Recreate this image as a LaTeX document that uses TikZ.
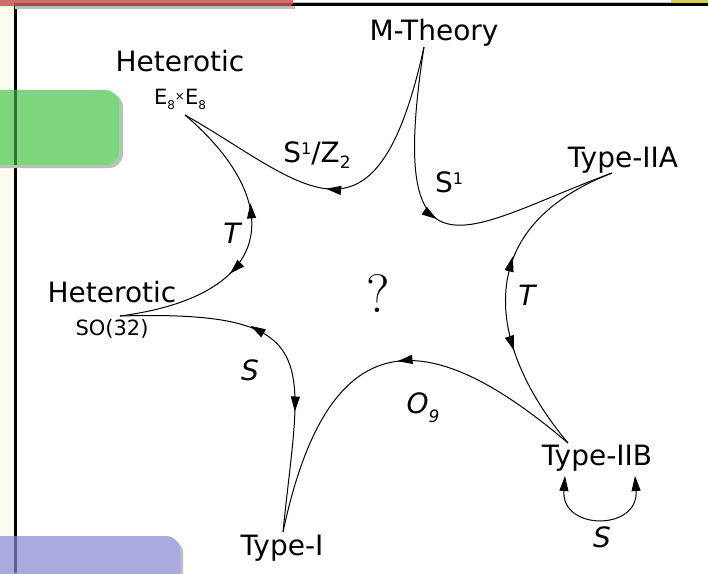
\documentclass[tikz,border=0pt]{standalone}
\usepackage{fontspec}
\setsansfont{DejaVu Sans}
\usetikzlibrary{arrows.meta, decorations.markings}

\definecolor{slidebeige}{RGB}{252,251,239}
\definecolor{slidered}{RGB}{204,84,84}
\definecolor{slidegreen}{RGB}{125,214,125}
\definecolor{slidegreendark}{RGB}{45,115,45}
\definecolor{slideblue}{RGB}{170,170,222}
\definecolor{slidebluedark}{RGB}{95,95,150}
\definecolor{slideyellow}{RGB}{214,200,112}
\definecolor{shadowgray}{RGB}{190,190,190}

\newcommand{\upidx}[1]{\raisebox{8pt}{\fontsize{16}{16}\selectfont #1}}
\newcommand{\downidx}[3]{\raisebox{-#1}{\fontsize{#2}{#2}\selectfont #3}}

\tikzset{
  stringline/.style={line width=1pt},
  flowline/.style={stringline, postaction={decorate},
    decoration={markings, mark=at position #1 with {\arrow{>}}}},
  dualline/.style 2 args={stringline, postaction={decorate},
    decoration={markings, mark=at position #1 with {\arrow{<}},
      mark=at position #2 with {\arrow{>}}}},
  theorylabel/.style={font=\sffamily\fontsize{28}{30}\selectfont, inner sep=0pt, anchor=base},
  grouplabel/.style={font=\sffamily\fontsize{21}{22}\selectfont, inner sep=0pt, anchor=base},
  maplabel/.style={font=\sffamily\fontsize{28}{30}\selectfont, inner sep=0pt, anchor=base},
  duallabel/.style={font=\sffamily\itshape\fontsize{28}{30}\selectfont, inner sep=0pt, anchor=base},
}

\begin{document}
\begin{tikzpicture}[x=1pt, y=-1pt, >={Triangle[length=15pt, width=9pt]}]
  \useasboundingbox (0,0) rectangle (708,573);
  \clip (0,0) rectangle (708,573);
  \fill[white] (0,0) rectangle (708,573);
  \fill[slidebeige] (0,0) rectangle (15,573);

  % === slide frame ===
  \fill[shadowgray] (293,1.5) rectangle (708,3);
  \fill[black] (14,3) rectangle (708,6);
  \fill[black] (14,3) rectangle (17,573);
  \fill[slideyellow] (671,0) rectangle (708,2.5);
  \fill[shadowgray] (15,6) rectangle (295,9);
  \fill[slidered, fill opacity=0.85, rounded corners=3pt] (-5,-5) rectangle (293,6);

  % green and blue tabs
  \fill[shadowgray, rounded corners=14pt] (-20,93) rectangle (123,168);
  \fill[slidegreen, rounded corners=14pt] (-20,90) rectangle (119,165);
  \fill[slidegreendark] (14,90) rectangle (17,165);
  \fill[shadowgray, rounded corners=14pt] (-20,539) rectangle (183,600);
  \fill[slideblue, rounded corners=14pt] (-20,536) rectangle (180,600);
  \fill[slidebluedark] (14,536) rectangle (17,573);

  % === theories ===
  \node[theorylabel] (mth) at (434,40) {M-Theory};
  \node[theorylabel] (iia) at (623,167) {Type-IIA};
  \node[theorylabel] (iib) at (597,465) {Type-IIB};
  \node[theorylabel] (ti) at (282,555) {Type-I};
  \node[theorylabel] (heso) at (112,302) {Heterotic};
  \node[grouplabel] (so) at (112,335) {SO(32)};
  \node[theorylabel] (hee) at (180,71) {Heterotic};
  \node[grouplabel] (ee) at (180,104) {E\downidx{5pt}{12}{8}\raisebox{4pt}{\fontsize{12}{12}\selectfont ×}E\downidx{5pt}{12}{8}};
  \node[font=\rmfamily\fontsize{54}{54}\selectfont, inner sep=0pt, anchor=base] (unknown) at (378,312) {?};

  % === maps and dualities ===
  \node[maplabel] (orb) at (317,162) {S\upidx{1}/Z\downidx{6pt}{17}{2}};
  \node[maplabel] (circ) at (449,192) {S\upidx{1}};
  \node[duallabel] (tleft) at (232,243) {T};
  \node[duallabel] (tright) at (527,305) {T};
  \node[duallabel] (sleft) at (250,380) {S};
  \node[duallabel] (orient) at (423,413) {O\downidx{9pt}{17}{9}};
  \node[duallabel] (sself) at (602,547) {S};

  % cusps
  \coordinate (cm) at (424,47);
  \coordinate (ce) at (185,115);
  \coordinate (ca) at (612,173);
  \coordinate (cb) at (568,443);
  \coordinate (ci) at (283,532);
  \coordinate (cs) at (120,316);

  \draw[flowline=0.54] (cm) .. controls (375,270) and (300,180) .. (ce);
  \draw[flowline=0.49] (cm) .. controls (385,300) and (470,225) .. (ca);
  \draw[dualline={0.44}{0.68}] (ca) .. controls (465,230) and (490,350) .. (cb);
  \draw[flowline=0.47] (cb) .. controls (435,330) and (330,310) .. (ci);
  \draw[dualline={0.41}{0.66}] (cs) .. controls (330,310) and (300,360) .. (ci);
  \draw[dualline={0.41}{0.61}] (ce) .. controls (285,200) and (280,295) .. (cs);
  \draw[stringline, <->] ([xshift=-32pt,yshift=-11pt]iib.base) .. controls +(-4,55) and +(4,55) .. ([xshift=38pt,yshift=-11pt]iib.base);
\end{tikzpicture}
\end{document}
